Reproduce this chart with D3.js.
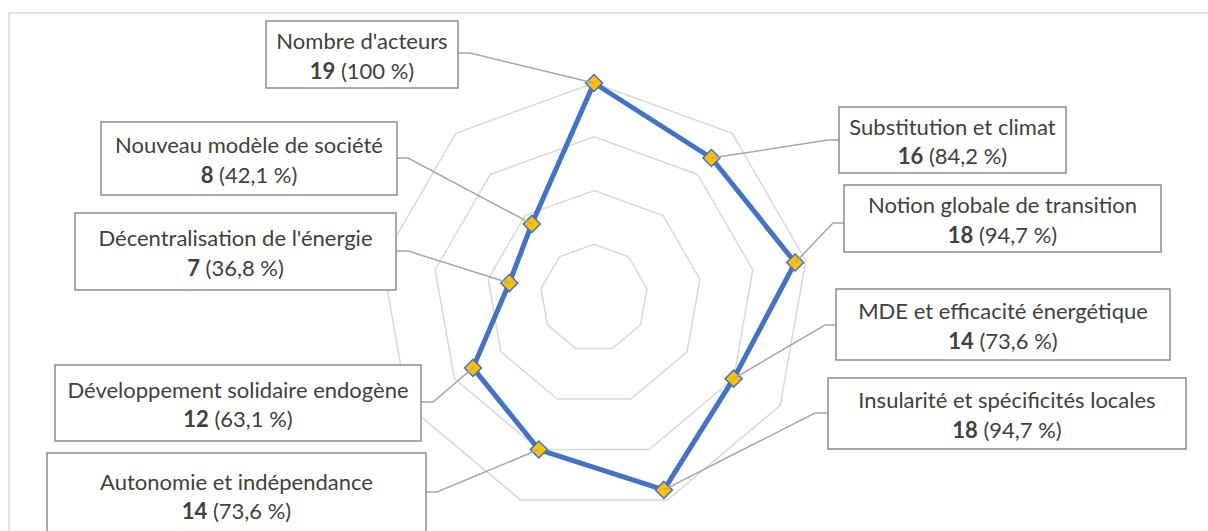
<!DOCTYPE html>
<html>
<head>
<meta charset="utf-8">
<script src="https://cdn.jsdelivr.net/npm/d3@7"></script>
<style>
  body { margin: 0; background: #fff; }
  svg { display: block; font-family: Lato, "Open Sans", sans-serif; }
</style>
</head>
<body>
<svg id="chart" width="1208" height="531"></svg>
<script>
// values
const categories = [
  "Nombre d'acteurs",
  "Substitution et climat",
  "Notion globale de transition",
  "MDE et efficacité énergétique",
  "Insularité et spécificités locales",
  "Autonomie et indépendance",
  "Développement solidaire endogène",
  "Décentralisation de l'énergie",
  "Nouveau modèle de société"
];
const values = [19, 16, 18, 14, 18, 14, 12, 7, 8];
const pctLabels = ["100", "84,2", "94,7", "73,6", "94,7", "73,6", "63,1", "36,8", "42,1"];
const ringValues = [4, 9, 14, 19];
const axisMin = -1, axisMax = 19;

// label boxes placed by hand like in the original (x, y, w, h, elbow)
const labelBoxes = [
  {x: 266, y: 21,  w: 192, h: 67, ex: 470, ey: 53},
  {x: 839, y: 107, w: 227, h: 66, ex: 828, ey: 140},
  {x: 844, y: 185, w: 317, h: 67, ex: 833, ey: 223},
  {x: 836, y: 289, w: 334, h: 71, ex: 825, ey: 325},
  {x: 828, y: 378, w: 358, h: 71, ex: 815, ey: 413},
  {x: 47,  y: 453, w: 379, h: 84, ex: 437, ey: 492},
  {x: 55,  y: 365, w: 366, h: 76, ex: 433, ey: 402},
  {x: 75,  y: 213, w: 321, h: 77, ex: 408, ey: 251},
  {x: 101, y: 122, w: 296, h: 73, ex: 408, ey: 158}
];

const cx = 594, cy = 298, R = 215;
const svg = d3.select('#chart');

svg.append('rect')
   .attr('x', 9).attr('y', 13)
   .attr('width', 1300).attr('height', 600)
   .attr('fill', 'none')
   .attr('stroke', '#d9d9d9')
   .attr('stroke-width', 1.5);

const r = d3.scaleLinear().domain([axisMin, axisMax]).range([0, R]);
const step = 2 * Math.PI / categories.length;

const g = svg.append('g').attr('transform', `translate(${cx},${cy})`);

// grid rings
const ringLine = d3.lineRadial()
  .angle((d, i) => i * step)
  .radius(d => r(d))
  .curve(d3.curveLinearClosed);

g.selectAll('path.ring')
 .data(ringValues)
 .enter()
 .append('path')
 .attr('class', 'ring')
 .attr('d', (v) => ringLine(categories.map(() => v)))
 .attr('fill', 'none')
 .attr('stroke', '#d9d9d9')
 .attr('stroke-width', 1.5);

// series
const seriesLine = d3.lineRadial()
  .angle((d, i) => i * step)
  .radius(d => r(d))
  .curve(d3.curveLinearClosed);

g.append('path')
 .attr('d', seriesLine(values))
 .attr('fill', 'none')
 .attr('stroke', '#4472C4')
 .attr('stroke-width', 5)
 .attr('stroke-linejoin', 'round');

function pointOf(v, i) {
  const a = i * step;
  return [cx + r(v) * Math.sin(a), cy - r(v) * Math.cos(a)];
}

const diamond = d3.symbol().type(d3.symbolSquare).size(145);

svg.selectAll('path.marker')
   .data(values)
   .enter()
   .append('path')
   .attr('class', 'marker')
   .attr('d', diamond)
   .attr('transform', (v, i) => {
     const p = pointOf(v, i);
     return `translate(${p[0]},${p[1]}) rotate(45)`;
   })
   .attr('fill', '#FFC000')
   .attr('stroke', '#4472C4')
   .attr('stroke-width', 1.5);

// leader lines, over the markers
svg.selectAll('polyline.leader')
   .data(values)
   .enter()
   .append('polyline')
   .attr('class', 'leader')
   .attr('points', (v, i) => {
     const p = pointOf(v, i);
     const b = labelBoxes[i];
     const edge = b.ex > b.x + b.w / 2 ? b.x + b.w : b.x;
     return [p, [b.ex, b.ey], [edge, b.ey]].map(q => q.join(',')).join(' ');
   })
   .attr('fill', 'none')
   .attr('stroke', '#a6a6a6')
   .attr('stroke-width', 1.5);

// label boxes
const labels = svg.selectAll('g.label')
  .data(categories)
  .enter()
  .append('g')
  .attr('class', 'label');

labels.append('rect')
  .attr('x', (d, i) => labelBoxes[i].x)
  .attr('y', (d, i) => labelBoxes[i].y)
  .attr('width', (d, i) => labelBoxes[i].w)
  .attr('height', (d, i) => labelBoxes[i].h)
  .attr('fill', '#fff')
  .attr('stroke', '#8c8c8c')
  .attr('stroke-width', 1.5);

labels.append('text')
  .attr('x', (d, i) => labelBoxes[i].x + labelBoxes[i].w / 2)
  .attr('y', (d, i) => labelBoxes[i].y + labelBoxes[i].h / 2 - 14)
  .attr('text-anchor', 'middle')
  .attr('dominant-baseline', 'central')
  .attr('font-size', 22)
  .attr('fill', '#404040')
  .text(d => d);

const second = labels.append('text')
  .attr('x', (d, i) => labelBoxes[i].x + labelBoxes[i].w / 2)
  .attr('y', (d, i) => labelBoxes[i].y + labelBoxes[i].h / 2 + 15)
  .attr('text-anchor', 'middle')
  .attr('dominant-baseline', 'central')
  .attr('font-size', 22)
  .attr('fill', '#404040');

second.append('tspan')
  .attr('font-weight', 'bold')
  .text((d, i) => values[i]);
second.append('tspan')
  .text((d, i) => ` (${pctLabels[i]} %)`);
</script>
</body>
</html>
